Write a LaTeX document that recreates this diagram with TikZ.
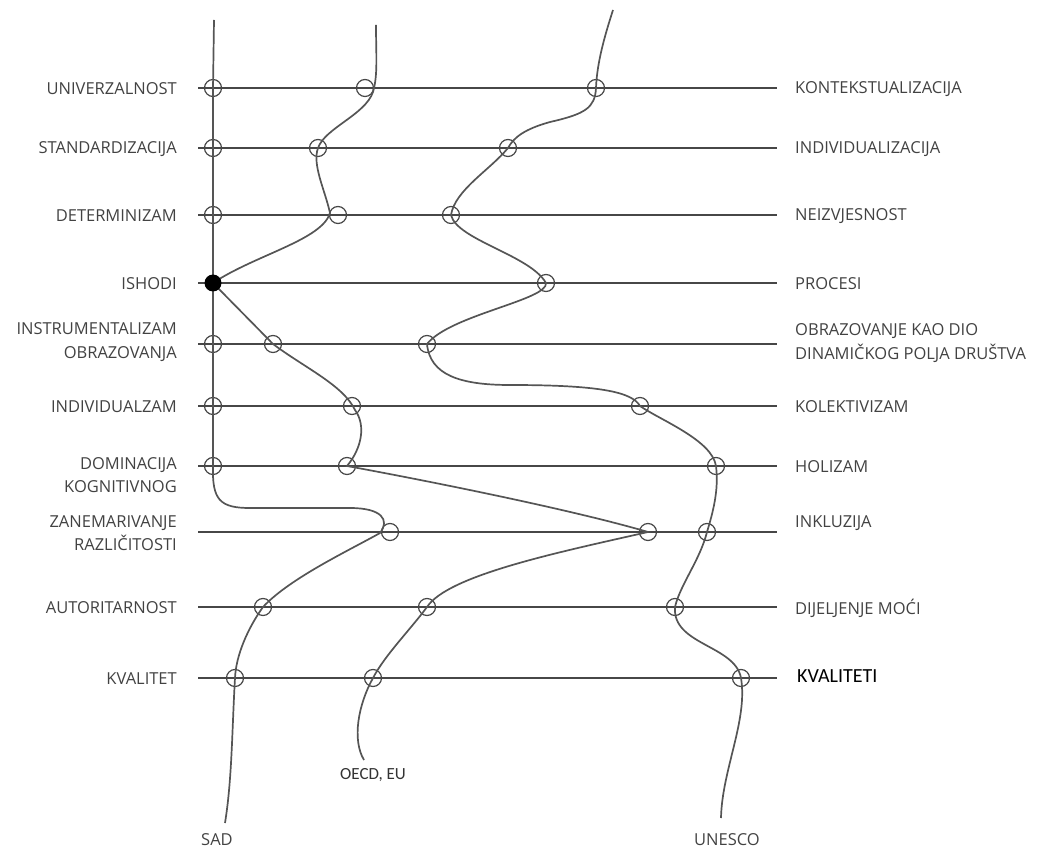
\documentclass[tikz,border=0pt]{standalone}
\usepackage{fontspec}
\setmainfont{Open Sans}
\newfontfamily\calfont{Carlito}
\definecolor{ink}{HTML}{474747}
\definecolor{txt}{HTML}{424242}
\definecolor{curvecol}{HTML}{555555}
\begin{document}
\begin{tikzpicture}[x=1pt,y=1pt,
 axis/.style={line width=2.8pt, draw=ink},
 strand/.style={line width=1.7pt, draw=curvecol},
 ring/.style={circle, draw=ink, line width=1.2pt, minimum size=17pt, inner sep=0pt},
 bigdot/.style={circle, fill=black, minimum size=17pt, inner sep=0pt},
 lab/.style={font=\fontsize{16.5}{23.5}\selectfont, text=txt, inner sep=0pt},
 llab/.style={lab, anchor=east, align=right},
 rlab/.style={lab, anchor=west, align=left},
 blab/.style={lab, anchor=center}]
\useasboundingbox (0,0) rectangle (1037,-850);

% horizontal axes
\foreach \i/\y in {1/88,2/148,3/215,4/283,5/344,6/406,7/466,8/532,9/607,10/678}{
  \coordinate (L\i) at (198,-\y);
  \coordinate (R\i) at (777,-\y);
  \draw[axis] (L\i) -- (R\i);
}

% left labels
\node[llab] (tl1) at (177,-89) {UNIVERZALNOST};
\node[llab] (tl2) at (177,-149) {STANDARDIZACIJA};
\node[llab] (tl3) at (177,-216) {DETERMINIZAM};
\node[llab] (tl4) at (177,-284) {ISHODI};
\node[llab] (tl5) at (177,-342) {INSTRUMENTALIZAM\\OBRAZOVANJA};
\node[llab] (tl6) at (177,-407) {INDIVIDUALZAM};
\node[llab] (tl7) at (177,-475) {DOMINACIJA\\KOGNITIVNOG};
\node[llab] (tl8) at (177,-533) {ZANEMARIVANJE\\RAZLIČITOSTI};
\node[llab] (tl9) at (177,-608) {AUTORITARNOST};
\node[llab] (tl10) at (177,-679) {KVALITET};

% right labels
\node[rlab] (tr1) at (795,-89) {KONTEKSTUALIZACIJA};
\node[rlab] (tr2) at (795,-149) {INDIVIDUALIZACIJA};
\node[rlab] (tr3) at (795,-216) {NEIZVJESNOST};
\node[rlab] (tr4) at (795,-284) {PROCESI};
\node[rlab] (tr5) at (795,-343) {OBRAZOVANJE KAO DIO\\DINAMIČKOG POLJA DRUŠTVA};
\node[rlab] (tr6) at (795,-407) {KOLEKTIVIZAM};
\node[rlab] (tr7) at (795,-467) {HOLIZAM};
\node[rlab] (tr8) at (795,-523) {INKLUZIJA};
\node[rlab] (tr9) at (795,-608) {DIJELJENJE MOĆI};
\node[rlab, font=\calfont\fontsize{20}{24}\selectfont, text=black] (tr10) at (797,-676) {KVALITETI};

% bottom labels
\node[blab] (bSAD) at (217,-840) {SAD};
\node[blab, font=\calfont\fontsize{17}{20}\selectfont, text=black!80] (bOECD) at (373,-775) {OECD, EU};
\node[blab] (bUN) at (727,-840) {UNESCO};

% SAD circles
\node[ring] (s1) at (213,-88) {};
\node[ring] (s2) at (213,-148) {};
\node[ring] (s3) at (213,-215) {};
\node[ring] (s5) at (213,-344) {};
\node[ring] (s6) at (213,-406) {};
\node[ring] (s7) at (213,-466) {};
\node[ring] (s8) at (390,-532) {};
\node[ring] (s9) at (263,-607) {};
\node[ring] (s10) at (235,-678) {};
% OECD circles
\node[ring] (o1) at (365,-88) {};
\node[ring] (o2) at (318,-148) {};
\node[ring] (o3) at (338,-215) {};
\node[ring] (o5) at (273,-344) {};
\node[ring] (o6) at (352,-406) {};
\node[ring] (o7) at (347,-466) {};
\node[ring] (o8) at (648,-532) {};
\node[ring] (o9) at (427,-607) {};
\node[ring] (o10) at (373,-678) {};
% UNESCO circles
\node[ring] (u1) at (596,-88) {};
\node[ring] (u2) at (508,-148) {};
\node[ring] (u3) at (451,-215) {};
\node[ring] (u4) at (546,-283) {};
\node[ring] (u5) at (427,-344) {};
\node[ring] (u6) at (640,-406) {};
\node[ring] (u7) at (716,-466) {};
\node[ring] (u8) at (707,-532) {};
\node[ring] (u9) at (675,-607) {};
\node[ring] (u10) at (741,-678) {};

% end points
\coordinate (sTop) at (214,-20);
\coordinate (sEnd) at (225,-823);
\coordinate (oTop) at (376,-25);
\coordinate (oEnd) at (364,-760);
\coordinate (uTop) at (613,-10);
\coordinate (uEnd) at (721,-818);

% SAD strand
\draw[strand] (sTop) -- (s1.center) -- (s2.center) -- (s3.center) -- (213,-283)
  -- (s5.center) -- (s6.center) -- (s7.center)
  .. controls (212,-500) and (220,-508) .. (250,-508) -- (350,-508)
  .. controls (382,-508) and (390,-520) .. (380,-533)
  .. controls (350,-550) and (290,-578) .. (s9.center)
  .. controls (248,-628) and (236,-655) .. (s10.center)
  .. controls (232,-730) and (232,-780) .. (sEnd);

% OECD strand
\draw[strand] (oTop) .. controls (376,-55) and (378,-75) .. (373,-92)
  .. controls (365,-115) and (325,-128) .. (o2.center)
  .. controls (312,-165) and (325,-190) .. (330,-213)
  .. controls (322,-240) and (255,-255) .. (213,-283)
  -- (o5.center)
  .. controls (305,-368) and (343,-385) .. (355,-410)
  .. controls (366,-425) and (362,-448) .. (o7.center)
  .. controls (450,-485) and (580,-512) .. (o8.center)
  .. controls (560,-552) and (448,-575) .. (o9.center)
  .. controls (410,-630) and (385,-655) .. (o10.center)
  .. controls (358,-705) and (352,-740) .. (oEnd);

% UNESCO strand
\draw[strand] (uTop) .. controls (605,-35) and (597,-62) .. (u1.center)
  .. controls (595,-108) and (585,-114) .. (550,-122)
  .. controls (525,-129) and (514,-137) .. (u2.center)
  .. controls (490,-170) and (455,-190) .. (u3.center)
  .. controls (457,-240) and (530,-255) .. (u4.center)
  .. controls (548,-300) and (450,-315) .. (u5.center)
  .. controls (430,-375) and (460,-385) .. (510,-385)
  .. controls (600,-385) and (632,-392) .. (u6.center)
  .. controls (660,-420) and (712,-440) .. (u7.center)
  .. controls (719,-490) and (713,-512) .. (u8.center)
  .. controls (700,-560) and (680,-585) .. (u9.center)
  .. controls (672,-645) and (735,-645) .. (u10.center)
  .. controls (748,-720) and (722,-770) .. (uEnd);

% filled dot (shared point)
\node[bigdot] (s4) at (213,-283) {};
\end{tikzpicture}
\end{document}
